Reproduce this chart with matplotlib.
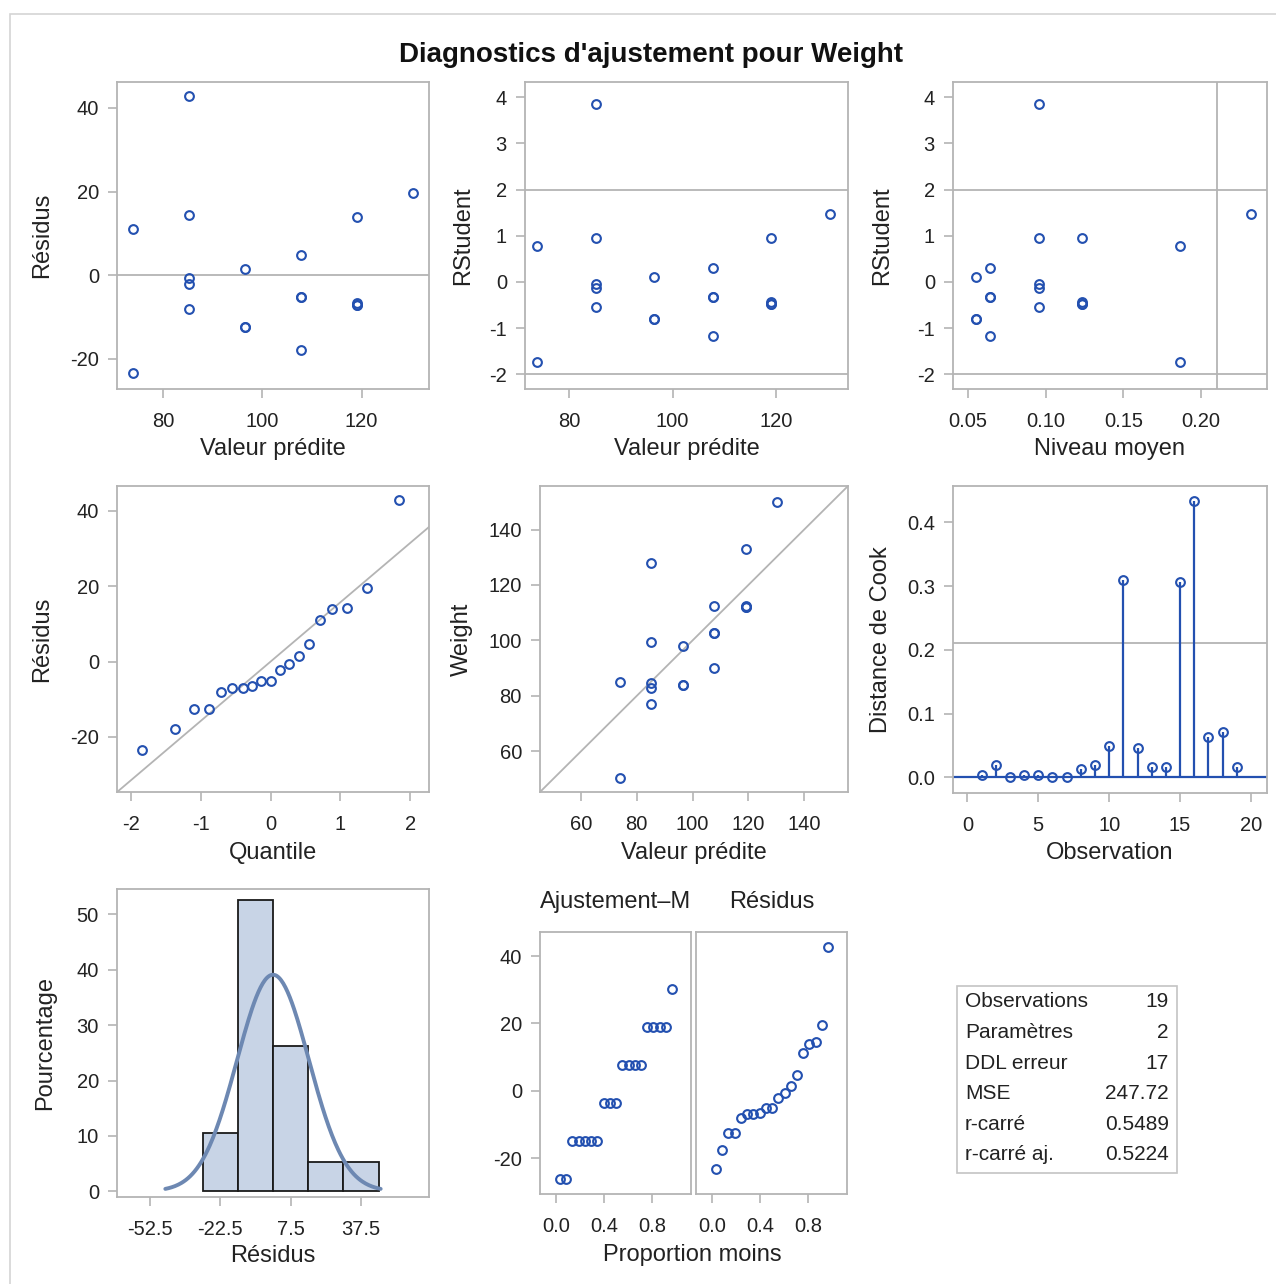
import matplotlib
matplotlib.use("Agg")
import matplotlib.pyplot as plt
import numpy as np
from matplotlib.patches import Rectangle
from matplotlib.ticker import FormatStrFormatter

plt.rcParams['font.family'] = ['Liberation Sans', 'DejaVu Sans']
plt.rcParams['axes.unicode_minus'] = False

# ---------------- data ----------------
obs = [1, 2, 3, 4, 5, 6, 7, 8, 9, 10, 11, 12, 13, 14, 15, 16, 17, 18, 19]
predicted = [107.76, 96.46, 96.46, 107.76, 107.76, 85.15, 85.15, 119.06, 96.46, 85.15,
             73.85, 107.76, 85.15, 119.06, 130.37, 85.15, 119.06, 73.85, 119.06]
weight = [112.5, 84, 98, 102.5, 102.5, 83, 84.5, 112.5, 84, 99.5,
          50.5, 90, 77, 112, 150, 128, 133, 85, 112]
residual = [4.74, -12.46, 1.54, -5.26, -5.26, -2.15, -0.65, -6.56, -12.46, 14.35,
            -23.35, -17.76, -8.15, -7.06, 19.63, 42.85, 13.94, 11.15, -7.06]
rstudent = [0.303, -0.806, 0.098, -0.336, -0.336, -0.140, -0.042, -0.435, -0.806, 0.956,
            -1.740, -1.180, -0.533, -0.468, 1.472, 3.860, 0.943, 0.776, -0.468]
leverage = [0.0643, 0.0551, 0.0551, 0.0643, 0.0643, 0.0958, 0.0958, 0.1234, 0.0551, 0.0958,
            0.1864, 0.0643, 0.0958, 0.1234, 0.2323, 0.0958, 0.1234, 0.1864, 0.1234]
cooksd = [0.0033, 0.0193, 0.0003, 0.0041, 0.0041, 0.0011, 0.0001, 0.0140, 0.0193, 0.0487,
          0.3099, 0.0468, 0.0157, 0.0162, 0.3067, 0.4340, 0.0630, 0.0707, 0.0162]

qq_quantile = [-1.846, -1.376, -1.097, -0.884, -0.705, -0.547, -0.401, -0.264, -0.131, 0.0,
               0.131, 0.264, 0.401, 0.547, 0.705, 0.884, 1.097, 1.376, 1.846]
qq_residual = [-23.35, -17.76, -12.46, -12.46, -8.15, -7.06, -7.06, -6.56, -5.26, -5.26,
               -2.15, -0.65, 1.54, 4.74, 11.15, 13.94, 14.35, 19.63, 42.85]

hist_mid = [-22.5, -7.5, 7.5, 22.5, 37.5]
hist_pct = [10.53, 52.63, 26.32, 5.26, 5.26]
hist_ticks = [-52.5, -22.5, 7.5, 37.5]
resid_sd = 15.30

prop_less = [0.032, 0.084, 0.136, 0.188, 0.240, 0.292, 0.344, 0.396, 0.448, 0.500,
             0.552, 0.604, 0.656, 0.708, 0.760, 0.812, 0.864, 0.916, 0.968]
fit_minus_mean = [-26.18, -26.18, -14.87, -14.87, -14.87, -14.87, -14.87, -3.57, -3.57, -3.57,
                  7.73, 7.73, 7.73, 7.73, 19.04, 19.04, 19.04, 19.04, 30.34]

stat_labels = ["Observations", "Paramètres", "DDL erreur", "MSE", "r-carré", "r-carré aj."]
stat_values = ["19", "2", "17", "247.72", "0.5489", "0.5224"]
n_obs = 19
n_params = 2
mse = 247.72

# ---------------- style ----------------
W, H = 1276, 1284
BLUE = '#2350b0'
GRAY = '#b4b4b4'
TXT = '#222222'
TICK = 14.5
LAB = 17

fig = plt.figure(figsize=(W / 100, H / 100), dpi=100)


def add_ax(box):
    x0, y0, x1, y1 = box
    return fig.add_axes([x0 / W, 1 - y1 / H, (x1 - x0) / W, (y1 - y0) / H])


def style(ax):
    for s in ax.spines.values():
        s.set_color(GRAY)
        s.set_linewidth(1.3)
    ax.tick_params(direction='out', length=6.5, width=1.2, color=GRAY,
                   labelsize=TICK, labelcolor=TXT)
    ax.tick_params(axis='x', pad=10)
    ax.tick_params(axis='y', pad=6.5)


def labels(ax, box, xl=None, xly=None, yl=None, ylx=None):
    x0, y0, x1, y1 = box
    w, h = x1 - x0, y1 - y0
    if xl:
        ax.set_xlabel(xl, fontsize=LAB, color=TXT, va='center', ha='center')
        ax.xaxis.set_label_coords(0.5, -(xly - y1) / h)
    if yl:
        ax.set_ylabel(yl, fontsize=LAB, color=TXT, va='center', ha='center')
        ax.yaxis.set_label_coords(-(x0 - ylx) / w, 0.5)


def pts(ax, x, y):
    ax.plot(x, y, 'o', ls='none', ms=6.3, mew=1.5, mfc='none', mec=BLUE, zorder=3)


# outer frame
fig.patches.append(Rectangle((10 / W, -0.1), 1.5, 1.1 - 14 / H, transform=fig.transFigure,
                             fill=False, ec='#d4d4d4', lw=1.2))

fig.text(651 / W, 1 - 61.5 / H, "Diagnostics d'ajustement pour Weight", fontsize=20,
         fontweight='bold', ha='center', va='baseline', color='#111111')

# Panel 1: residual vs predicted
b1 = (117, 82, 429, 389)
ax = add_ax(b1); style(ax)
ax.axhline(0, color=GRAY, lw=1.3, zorder=1)
pts(ax, predicted, residual)
ax.set_xlim(70.7, 133.6); ax.set_ylim(-27.2, 46.2)
ax.set_xticks([80, 100, 120]); ax.set_yticks([-20, 0, 20, 40])
labels(ax, b1, "Valeur prédite", 449, "Résidus", 42)

# Panel 2: RStudent vs predicted
b2 = (525, 82, 848, 389)
ax = add_ax(b2); style(ax)
for v in (2, -2):
    ax.axhline(v, color=GRAY, lw=1.3, zorder=1)
pts(ax, predicted, rstudent)
ax.set_xlim(71.5, 133.9); ax.set_ylim(-2.32, 4.33)
ax.set_xticks([80, 100, 120]); ax.set_yticks([-2, -1, 0, 1, 2, 3, 4])
labels(ax, b2, "Valeur prédite", 449, "RStudent", 463)

# Panel 3: RStudent vs leverage
b3 = (953, 82, 1267, 389)
ax = add_ax(b3); style(ax)
for v in (2, -2):
    ax.axhline(v, color=GRAY, lw=1.3, zorder=1)
ax.axvline(2 * n_params / n_obs, color=GRAY, lw=1.3, zorder=1)
pts(ax, leverage, rstudent)
ax.set_xlim(0.0403, 0.2425); ax.set_ylim(-2.32, 4.33)
ax.set_xticks([0.05, 0.10, 0.15, 0.20]); ax.set_yticks([-2, -1, 0, 1, 2, 3, 4])
ax.xaxis.set_major_formatter(FormatStrFormatter('%.2f'))
labels(ax, b3, "Niveau moyen", 449, "RStudent", 882)

# Panel 4: QQ plot
b4 = (117, 486, 429, 792)
ax = add_ax(b4); style(ax)
ax.axline((0, 0), slope=np.sqrt(mse), color=GRAY, lw=1.3, zorder=1)
pts(ax, qq_quantile, qq_residual)
ax.set_xlim(-2.2, 2.27); ax.set_ylim(-34.6, 46.6)
ax.set_xticks([-2, -1, 0, 1, 2]); ax.set_yticks([-20, 0, 20, 40])
labels(ax, b4, "Quantile", 853, "Résidus", 42)

# Panel 5: observed vs predicted
b5 = (540, 486, 848, 792)
ax = add_ax(b5); style(ax)
ax.axline((100, 100), slope=1, color=GRAY, lw=1.3, zorder=1)
pts(ax, predicted, weight)
ax.set_xlim(45.3, 155.7); ax.set_ylim(45.3, 155.7)
ax.set_xticks([60, 80, 100, 120, 140]); ax.set_yticks([60, 80, 100, 120, 140])
labels(ax, b5, "Valeur prédite", 853, "Weight", 462)

# Panel 6: Cook's D
b6 = (953, 486, 1267, 793)
ax = add_ax(b6); style(ax)
ax.axhline(4 / n_obs, color=GRAY, lw=1.3, zorder=1)
ax.axhline(0, color=BLUE, lw=1.6, zorder=2)
ax.vlines(obs, 0, cooksd, color=BLUE, lw=1.6, zorder=2)
pts(ax, obs, cooksd)
ax.set_xlim(-1.01, 21.13); ax.set_ylim(-0.0244, 0.457)
ax.set_xticks([0, 5, 10, 15, 20]); ax.set_yticks([0, 0.1, 0.2, 0.3, 0.4])
ax.yaxis.set_major_formatter(FormatStrFormatter('%.1f'))
labels(ax, b6, "Observation", 853, "Distance de Cook", 881)

# Panel 7: histogram of residuals
b7 = (117, 889, 429, 1197)
ax = add_ax(b7); style(ax)
ax.bar(hist_mid, hist_pct, width=15, color='#c8d4e6', edgecolor='#1a1a1a', lw=1.3, zorder=2)
xs = np.linspace(-3 * resid_sd, 3 * resid_sd, 200)
ax.plot(xs, 15 * 100 * np.exp(-0.5 * (xs / resid_sd) ** 2) / (resid_sd * np.sqrt(2 * np.pi)),
        color='#6d88b2', lw=2.8, zorder=3, solid_capstyle='round')
ax.set_xlim(-66.5, 66.5); ax.set_ylim(-1.03, 54.6)
ax.set_xticks(hist_ticks); ax.set_yticks([0, 10, 20, 30, 40, 50])
ax.xaxis.set_major_formatter(FormatStrFormatter('%.1f'))
labels(ax, b7, "Résidus", 1256, "Pourcentage", 45)

# Panel 8: residual-fit spread
b8a = (540, 932, 691, 1194)
b8b = (696, 932, 847, 1194)
axa = add_ax(b8a); style(axa)
axb = add_ax(b8b); style(axb)
pts(axa, prop_less, fit_minus_mean)
pts(axb, prop_less, qq_residual)
for a in (axa, axb):
    a.set_xlim(-0.135, 1.125); a.set_ylim(-30.7, 47.2)
    a.set_xticks([0, 0.4, 0.8])
    a.xaxis.set_major_formatter(FormatStrFormatter('%.1f'))
axa.set_yticks([-20, 0, 20, 40])
axb.set_yticks([])
hh = 1194 - 932
axa.text(0.5, 1 + (932 - 901.7) / hh, "Ajustement–M", transform=axa.transAxes,
         ha='center', va='center', fontsize=LAB, color=TXT)
axb.text(0.5, 1 + (932 - 901.7) / hh, "Résidus", transform=axb.transAxes,
         ha='center', va='center', fontsize=LAB, color=TXT)
fig.text(692 / W, 1 - 1255 / H, "Proportion moins", ha='center', va='center',
         fontsize=LAB, color=TXT)

# Fit statistics table
fig.patches.append(Rectangle((957 / W, 1 - 1173 / H), (1177 - 957) / W, (1173 - 986) / H,
                             transform=fig.transFigure, fill=False, ec='#c4c4c4', lw=1.2))
for i, (lab, val) in enumerate(zip(stat_labels, stat_values)):
    yy = 1 - (1001.7 + i * 30.66) / H
    fig.text(965 / W, yy, lab, ha='left', va='center', fontsize=15, color=TXT)
    fig.text(1169 / W, yy, val, ha='right', va='center', fontsize=15, color=TXT)

fig.savefig("out.png", dpi=100)
